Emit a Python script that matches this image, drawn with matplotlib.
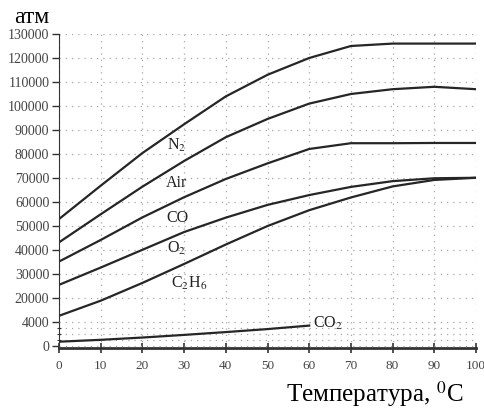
import matplotlib
matplotlib.use('Agg')
import matplotlib.pyplot as plt

plt.rcParams['font.family'] = ['Liberation Serif', 'DejaVu Serif']
plt.rcParams['mathtext.fontset'] = 'stix'

# values, atm
temps = [0, 10, 20, 30, 40, 50, 60, 70, 80, 90, 100]
n2 = [52900, 66800, 80400, 92400, 104000, 113000, 120000, 125000, 126000, 126000, 126000]
air = [43200, 54900, 66400, 77100, 87000, 94600, 101000, 105000, 107000, 108000, 107000]
co = [35200, 44200, 53600, 62000, 69600, 76100, 82100, 84500, 84500, 84600, 84600]
o2 = [25500, 32700, 40100, 47500, 53500, 58800, 62900, 66300, 68700, 69900, 70100]
c2h6 = [12600, 18900, 26300, 34200, 42300, 50000, 56600, 61900, 66500, 69200, 70100]

# CO2 is drawn on its own (stretched) scale: 0..4000
co2_temps = [0, 10, 20, 30, 40, 50, 60]
co2 = [728, 1040, 1420, 1860, 2330, 2830, 3410]

main_ticks = list(range(20000, 130001, 10000))
co2_ticks = [0, 4000]
co2_minor = [1000, 2000, 3000]
x_ticks = list(range(0, 101, 10))

line_col = '#262626'
grid_kw = dict(color='#a8a8a8', linestyle=(0, (1, 4)), linewidth=0.9)

fig = plt.figure(figsize=(4.84, 4.16), dpi=100)
ax = fig.add_axes([0.1219, 0.1635, 0.8616, 0.7548])

for vals in [n2, air, co, o2, c2h6]:
    ax.plot(temps, vals, color=line_col, lw=1.6)

ax.set_xlim(0, 100)
ax.set_ylim(-800, 130000)
ax.set_xticks(x_ticks)
ax.set_yticks(main_ticks)
ax.set_yticklabels([str(v) for v in main_ticks])
ax.grid(True, **grid_kw)

ax2 = ax.twinx()
ax2.plot(co2_temps, co2, color=line_col, lw=1.6)
ax2.set_ylim(-800 / 2.5, 130000 / 2.5)
ax2.yaxis.tick_left()
ax2.set_yticks(co2_ticks)
ax2.set_yticklabels([str(v) for v in co2_ticks])
ax2.set_yticks(co2_minor, minor=True)
ax2.grid(True, axis='y', which='both', **grid_kw)

for a in (ax, ax2):
    a.spines['top'].set_visible(False)
    a.spines['right'].set_visible(False)
ax2.spines['bottom'].set_visible(False)
ax2.spines['left'].set_visible(False)
ax.spines['left'].set_color('#333333')
ax.spines['bottom'].set_color('#333333')
ax.spines['bottom'].set_linewidth(2.0)

ax.tick_params(axis='x', direction='inout', length=7, width=1.2, pad=5,
               labelsize=9.5, labelcolor='#444444', color='#333333')
ax.tick_params(axis='y', direction='out', length=5, width=1, pad=2,
               labelsize=10, labelcolor='#444444', color='#333333')
ax2.tick_params(axis='y', which='major', direction='out', length=5, width=1, pad=2,
                labelsize=10, labelcolor='#444444', color='#333333')
ax2.tick_params(axis='y', which='minor', direction='inout', length=3, width=0.8,
                color='#333333')

lbl = dict(fontsize=11.5, color='#222222', va='center', ha='left')
ax.text(25.8, 83400, r'N$_2$', **lbl)
ax.text(25.6, 67900, 'Air', **lbl)
ax.text(25.8, 53500, 'CO', **lbl)
ax.text(25.8, 40800, r'O$_2$', **lbl)
ax.text(26.8, 26200, r'C$_2$H$_6$', **lbl)
ax2.text(60.9, 3830, r'CO$_2$', **lbl)

fig.text(0.029, 0.958, 'атм', fontsize=17, ha='left', va='center')
fig.text(0.958, 0.052, r'Температура, $^0$C', fontsize=18, ha='right', va='center')

fig.savefig('out.png', dpi=100)
